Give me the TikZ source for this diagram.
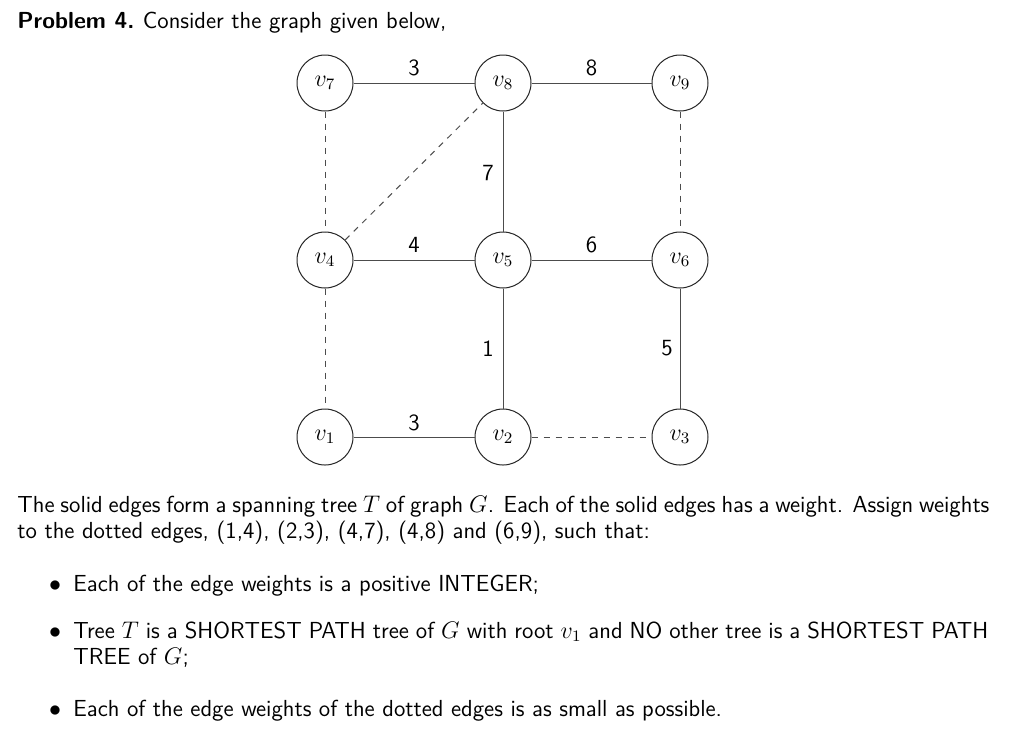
\documentclass[tikz,border=0pt]{standalone}
\usepackage{tikz}
\begin{document}
\begin{tikzpicture}[x=0.5pt,y=-0.5pt,
  vert/.style={circle,draw=black!85,line width=0.5pt,minimum size=28pt,inner sep=0pt,fill=white,font=\fontsize{11.6}{13}\selectfont},
  tedge/.style={draw=black!70,line width=0.5pt},
  dedge/.style={draw=black!70,line width=0.5pt,dashed},
  wlab/.style={font=\sffamily\fontsize{11.6}{13}\selectfont,inner sep=0pt},
  txt/.style={font=\sffamily\fontsize{11.6}{13}\selectfont,inner sep=0pt,anchor=base west}]
\useasboundingbox (0,0) rectangle (1024,736);

% vertices
\node[vert] (v7) at (325,83) {$v_7$};
\node[vert] (v8) at (503,83) {$v_8$};
\node[vert] (v9) at (680,83) {$v_9$};
\node[vert] (v4) at (325,260) {$v_4$};
\node[vert] (v5) at (503,260) {$v_5$};
\node[vert] (v6) at (680,260) {$v_6$};
\node[vert] (v1) at (325,437) {$v_1$};
\node[vert] (v2) at (503,437) {$v_2$};
\node[vert] (v3) at (680,437) {$v_3$};

% solid edges (spanning tree)
\draw[tedge] (v7) -- node[wlab,midway,yshift=7.8pt] {3} (v8);
\draw[tedge] (v8) -- node[wlab,midway,yshift=7.8pt] {8} (v9);
\draw[tedge] (v4) -- node[wlab,midway,yshift=7.8pt] {4} (v5);
\draw[tedge] (v5) -- node[wlab,midway,yshift=7.8pt] {6} (v6);
\draw[tedge] (v1) -- node[wlab,midway,yshift=7.3pt] {3} (v2);
\draw[tedge] (v8) -- node[wlab,midway,xshift=-7.5pt,yshift=-0.7pt] {7} (v5);
\draw[tedge] (v5) -- node[wlab,midway,xshift=-7.5pt] {1} (v2);
\draw[tedge] (v6) -- node[wlab,midway,xshift=-6.5pt] {5} (v3);

% dashed edges
\draw[dedge] (v7) -- (v4);
\draw[dedge] (v4) -- (v8);
\draw[dedge] (v9) -- (v6);
\draw[dedge] (v4) -- (v1);
\draw[dedge] (v2) -- (v3);

% texts
\node[txt] (title) at (17,28) {\bfseries Problem 4.\ \mdseries Consider the graph given below,};
\node[txt] (p1) at (17,512) {\makebox[486pt][s]{The solid edges form a spanning tree $T$ of graph $G$. Each of the solid edges has a weight. Assign weights}};
\node[txt] (p2) at (17,538) {to the dotted edges, (1,4), (2,3), (4,7), (4,8) and (6,9), such that:};

\node[txt,anchor=base] (b1) at (55,591) {$\bullet$};
\node[txt] (i1) at (73,591) {Each of the edge weights is a positive INTEGER;};
\node[txt,anchor=base] (b2) at (55,638) {$\bullet$};
\node[txt] (i2a) at (73,638) {\makebox[457.5pt][s]{Tree $T$ is a SHORTEST PATH tree of $G$ with root $v_1$ and NO other tree is a SHORTEST PATH}};
\node[txt] (i2b) at (73,664) {TREE of $G$;};
\node[txt,anchor=base] (b3) at (55,716) {$\bullet$};
\node[txt] (i3) at (73,716) {Each of the edge weights of the dotted edges is as small as possible.};
\end{tikzpicture}
\end{document}
